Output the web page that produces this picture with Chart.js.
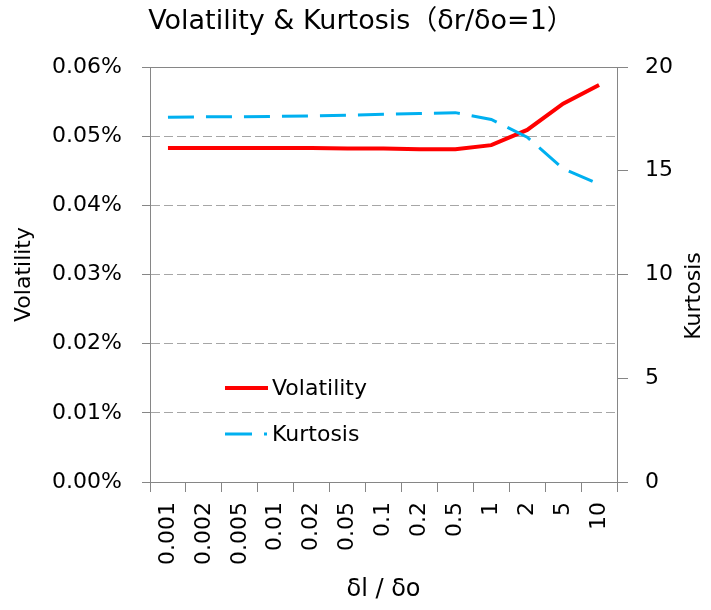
<!DOCTYPE html>
<html>
<head>
<meta charset="utf-8">
<script src="https://cdn.jsdelivr.net/npm/chart.js@4.4.1/dist/chart.umd.min.js"></script>
<style>
  html, body { margin: 0; padding: 0; background: #ffffff; }
  #wrap { width: 711px; height: 610px; }
</style>
</head>
<body>
<div id="wrap"><canvas id="c" width="711" height="610"></canvas></div>
<script>
// ---- data ----
const categories = ['0.001','0.002','0.005','0.01','0.02','0.05','0.1','0.2','0.5','1','2','5','10'];
const volatility = [0.0483, 0.0483, 0.0483, 0.0483, 0.0483, 0.0482, 0.0482, 0.0481, 0.0481, 0.0487, 0.0509, 0.0547, 0.0574]; // in %
const kurtosis   = [17.58, 17.6, 17.6, 17.62, 17.64, 17.68, 17.72, 17.76, 17.8, 17.47, 16.62, 15.1, 14.35];
const volTicks = [0, 0.01, 0.02, 0.03, 0.04, 0.05, 0.06];
const kurTicks = [0, 5, 10, 15, 20];
const chartTitle = 'Volatility & Kurtosis（δr/δo=1）';

const FONT = '"DejaVu Sans", "Noto Sans CJK JP", sans-serif';

const customText = {
  id: 'customText',
  afterDraw(chart) {
    const ctx = chart.ctx;
    const a = chart.chartArea;
    ctx.save();
    // top border of plot area
    ctx.strokeStyle = '#868686';
    ctx.lineWidth = 1;
    ctx.beginPath();
    ctx.moveTo(a.left, a.top + 0.5);
    ctx.lineTo(a.right, a.top + 0.5);
    ctx.stroke();
    // chart title
    ctx.fillStyle = '#000';
    ctx.font = '27px ' + FONT;
    ctx.textAlign = 'center';
    ctx.textBaseline = 'middle';
    ctx.fillText(chartTitle, 361, 22);
    // right axis title (reads bottom-to-top)
    ctx.font = '22px ' + FONT;
    ctx.translate(694, 296);
    ctx.rotate(-Math.PI / 2);
    ctx.fillText('Kurtosis', 0, 0);
    ctx.restore();

    // legend inside plot
    ctx.save();
    const ds = chart.data.datasets;
    const lx = a.left + 75, rowY = [a.top + 321, a.top + 367];
    ds.forEach((d, i) => {
      const y = rowY[i];
      ctx.strokeStyle = d.borderColor;
      ctx.lineWidth = d.borderWidth;
      ctx.lineCap = 'butt';
      ctx.beginPath();
      if (d.borderDash && d.borderDash.length) {
        ctx.moveTo(lx, y); ctx.lineTo(lx + 27, y);
        ctx.moveTo(lx + 39, y); ctx.lineTo(lx + 42, y);
      } else {
        ctx.moveTo(lx, y); ctx.lineTo(lx + 43, y);
      }
      ctx.stroke();
      ctx.fillStyle = '#000';
      ctx.font = '22px ' + FONT;
      ctx.textAlign = 'left';
      ctx.textBaseline = 'middle';
      ctx.fillText(d.label, lx + 47, y + 1);
    });
    ctx.restore();
  }
};

new Chart(document.getElementById('c'), {
  type: 'line',
  data: {
    labels: categories,
    datasets: [
      {
        label: 'Volatility',
        data: volatility,
        yAxisID: 'y',
        borderColor: '#ff0000',
        backgroundColor: '#ff0000',
        borderWidth: 4,
        pointRadius: 0,
        tension: 0,
        order: 1
      },
      {
        label: 'Kurtosis',
        data: kurtosis,
        yAxisID: 'y2',
        borderColor: '#00b0f0',
        backgroundColor: '#00b0f0',
        borderWidth: 3,
        borderDash: [26, 12],
        borderCapStyle: 'butt',
        pointRadius: 0,
        tension: 0,
        order: 0
      }
    ]
  },
  options: {
    responsive: false,
    animation: false,
    layout: { padding: { top: 67, left: 0, right: 0, bottom: 0 } },
    plugins: {
      legend: { display: false },
      tooltip: { enabled: false },
      title: { display: false }
    },
    scales: {
      x: {
        type: 'category',
        offset: true,
        grid: {
          offset: true,
          drawOnChartArea: false,
          drawTicks: true,
          tickLength: 10,
          tickColor: '#868686',
          color: '#868686'
        },
        border: { display: true, color: '#868686', width: 1 },
        ticks: {
          minRotation: 90,
          maxRotation: 90,
          autoSkip: false,
          padding: 10,
          color: '#000',
          font: { family: FONT, size: 22 }
        },
        title: {
          display: true,
          text: 'δl / δo',
          color: '#000',
          font: { family: FONT, size: 24 },
          padding: { top: 0, bottom: 6 }
        },
        afterFit(s) { s.height = 128; }
      },
      y: {
        position: 'left',
        min: 0,
        max: 0.06,
        afterBuildTicks(s) { s.ticks = volTicks.map(v => ({ value: v })); },
        grid: {
          drawOnChartArea: true,
          tickLength: 8,
          tickColor: '#868686',
          tickBorderDash: [],
          color: (c) => (c.index === 0 || c.index === volTicks.length - 1) ? 'rgba(0,0,0,0)' : '#a6a6a6'
        },
        border: { display: true, color: '#868686', width: 1, dash: [9, 4] },
        ticks: {
          padding: 20,
          color: '#000',
          font: { family: FONT, size: 22 },
          callback: (v) => Number(v).toFixed(2) + '%'
        },
        title: {
          display: true,
          text: 'Volatility',
          color: '#000',
          font: { family: FONT, size: 22 },
          padding: { top: 11, bottom: 0 }
        },
        afterFit(s) { s.width = 150; }
      },
      y2: {
        position: 'right',
        min: 0,
        max: 20,
        afterBuildTicks(s) { s.ticks = kurTicks.map(v => ({ value: v })); },
        grid: {
          drawOnChartArea: false,
          tickLength: 11,
          tickColor: '#868686',
          color: '#868686'
        },
        border: { display: true, color: '#868686', width: 1 },
        ticks: {
          padding: 17,
          color: '#000',
          font: { family: FONT, size: 22 }
        },
        afterFit(s) { s.width = 94; }
      }
    }
  },
  plugins: [customText]
});
</script>
</body>
</html>
